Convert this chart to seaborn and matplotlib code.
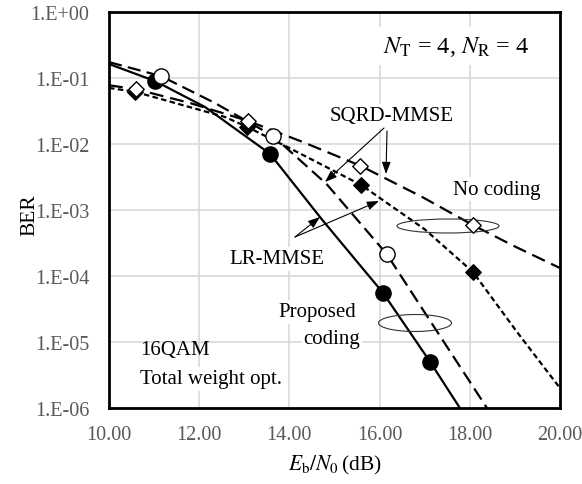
import numpy as np
import pandas as pd
import matplotlib
matplotlib.use("Agg")
import matplotlib.pyplot as plt
from matplotlib.patches import Ellipse
import seaborn as sns

# ---------------- data ----------------
# Proposed coding, LR-MMSE (solid line, filled circles)
plr_line_x = [10.00, 11.02, 12.13, 13.57, 14.72, 16.08, 17.12, 17.78]
plr_line_y = [0.163, 0.090, 0.0363, 0.0071, 7.2e-4, 5.5e-5, 5.0e-6, 1.0e-6]
plr_mark_x = [11.02, 13.57, 16.08, 17.12]
plr_mark_y = [0.090, 0.0071, 5.5e-5, 5.0e-6]

# Proposed coding, SQRD-MMSE (long dashes, open circles)
psq_line_x = [10.00, 11.15, 12.35, 13.64, 14.83, 16.16, 17.34, 18.38]
psq_line_y = [0.174, 0.107, 0.0417, 0.0132, 2.45e-3, 2.14e-4, 1.23e-5, 1.0e-6]
psq_mark_x = [11.15, 13.64, 16.16]
psq_mark_y = [0.107, 0.0132, 2.14e-4]

# No coding, LR-MMSE (short dashes, filled diamonds)
nlr_line_x = [10.00, 10.58, 12.57, 13.06, 13.97, 15.59, 17.00, 18.07, 19.05, 20.00]
nlr_line_y = [0.0708, 0.0617, 0.0257, 0.0182, 8.9e-3, 2.4e-3, 5.1e-4, 1.15e-4, 1.41e-5, 2.0e-6]
nlr_mark_x = [10.58, 13.06, 15.59, 18.07]
nlr_mark_y = [0.0617, 0.0182, 2.4e-3, 1.15e-4]

# No coding, SQRD-MMSE (long dashes, open diamonds)
nsq_line_x = [10.00, 10.60, 11.80, 13.08, 14.30, 15.57, 16.94, 18.07, 19.00, 20.00]
nsq_line_y = [0.0776, 0.0676, 0.0417, 0.0224, 0.0107, 4.7e-3, 1.58e-3, 5.9e-4, 2.8e-4, 1.32e-4]
nsq_mark_x = [10.60, 13.08, 15.57, 18.07]
nsq_mark_y = [0.0676, 0.0224, 4.7e-3, 5.9e-4]

x_ticks = [10, 12, 14, 16, 18, 20]
x_tick_labels = ["10.00", "12.00", "14.00", "16.00", "18.00", "20.00"]
y_ticks = [1e-6, 1e-5, 1e-4, 1e-3, 1e-2, 1e-1, 1e0]
y_tick_labels = ["1.E-06", "1.E-05", "1.E-04", "1.E-03", "1.E-02", "1.E-01", "1.E+00"]

# ---------------- styling ----------------
sns.set_theme(style="white")
plt.rcParams["font.family"] = ["Liberation Serif", "DejaVu Serif"]
plt.rcParams["mathtext.fontset"] = "stix"
plt.rcParams["lines.scale_dashes"] = False

W, H = 582, 485
fig = plt.figure(figsize=(W / 100, H / 100), dpi=100)
L_, R_, T_, B_ = 109, 560, 13, 409
ax = fig.add_axes([L_ / W, 1 - B_ / H, (R_ - L_) / W, (B_ - T_) / H])

lw = 1.6
series = [
    (plr_line_x, plr_line_y, "-"),
    (psq_line_x, psq_line_y, (0, (9.5, 4.5))),
    (nlr_line_x, nlr_line_y, (0, (4.0, 2.4))),
    (nsq_line_x, nsq_line_y, (0, (10.0, 5.0))),
]
for xs, ys, ls in series:
    df = pd.DataFrame({"x": xs, "y": ys})
    sns.lineplot(data=df, x="x", y="y", ax=ax, color="black", lw=lw,
                 sort=False, estimator=None)
    ln = ax.lines[-1]
    ln.set_linestyle(ls)
    ln.set_zorder(4)

def marks(xs, ys, marker, fc, s):
    df = pd.DataFrame({"x": xs, "y": ys})
    sns.scatterplot(data=df, x="x", y="y", ax=ax, marker=marker, s=s,
                    facecolor=fc, edgecolor="black", linewidth=1.0, zorder=6)

marks(plr_mark_x, plr_mark_y, "o", "black", 120)
marks(nlr_mark_x, nlr_mark_y, "D", "black", 62)
marks(psq_mark_x, psq_mark_y, "o", "white", 120)
marks(nsq_mark_x, nsq_mark_y, "D", "white", 62)

ax.set_yscale("log")
ax.set_xlim(10, 20)
ax.set_ylim(1e-6, 1)
ax.set_xticks(x_ticks)
ax.set_xticklabels(x_tick_labels)
ax.set_yticks(y_ticks)
ax.set_yticklabels(y_tick_labels)
ax.minorticks_off()
ax.tick_params(axis="both", length=0, labelsize=14.5, labelcolor="#595959")
ax.tick_params(axis="y", pad=14)
ax.tick_params(axis="x", pad=12)
ax.grid(True, color="#d9d9d9", lw=1.2, zorder=0)
ax.set_axisbelow(True)
for sp in ax.spines.values():
    sp.set_color("black")
    sp.set_linewidth(2.0)
    sp.set_zorder(7)

ax.set_xlabel(r"$E_{\mathrm{b}}/N_0\,$(dB)", fontsize=15.5, color="black", labelpad=7)
ax.set_ylabel("BER", fontsize=15.5, color="black")
ax.yaxis.set_label_coords(-70 / 451, 0.49)

def fx(px):
    return (px - L_) / (R_ - L_)

def fy(py):
    return (B_ - py) / (B_ - T_)

box = dict(facecolor="white", edgecolor="none", pad=1.5)
tk = dict(transform=ax.transAxes, fontsize=15, color="black", zorder=3)
ax.text(fx(456), fy(47), r"$N_{\mathrm{T}}$ = 4, $N_{\mathrm{R}}$ = 4",
        ha="center", va="center", fontsize=17.5, transform=ax.transAxes, color="black",
        zorder=3, bbox=dict(facecolor="white", edgecolor="none", pad=5))
ax.text(fx(392), fy(117), "SQRD-MMSE", ha="center", va="center", bbox=box, **tk)
ax.text(fx(497), fy(190), "No coding", ha="center", va="center", bbox=box, **tk)
ax.text(fx(277), fy(260), "LR-MMSE", ha="center", va="center", bbox=box, **tk)
ax.text(fx(317), fy(313), "Proposed", ha="center", va="center", bbox=box, **tk)
ax.text(fx(332), fy(340), "coding", ha="center", va="center", bbox=box, **tk)
ax.text(fx(140), fy(350), "16QAM", ha="left", va="center", **tk)
ax.text(fx(140), fy(380), "Total weight opt.", ha="left", va="center", bbox=box, **tk)

arrow = dict(arrowstyle="-|>,head_length=0.6,head_width=0.22", color="black", lw=0.8,
             shrinkA=0, shrinkB=0)
for (x0, y0), (x1, y1) in [((384, 129), (325, 183)), ((387, 132), (386, 175)),
                           ((295, 238), (320, 218)), ((295, 238), (379, 202))]:
    ax.annotate("", xy=(fx(x1), fy(y1)), xytext=(fx(x0), fy(y0)),
                xycoords="axes fraction", textcoords="axes fraction",
                arrowprops=arrow, zorder=5)

for (cx, cy, w, h) in [(448, 227, 102, 14), (415, 324, 73, 17)]:
    e = Ellipse((fx(cx), fy(cy)), w / (R_ - L_), h / (B_ - T_), transform=ax.transAxes,
                facecolor="none", edgecolor="#333333", lw=0.8, zorder=5)
    ax.add_patch(e)

fig.savefig("out.png", dpi=100)
